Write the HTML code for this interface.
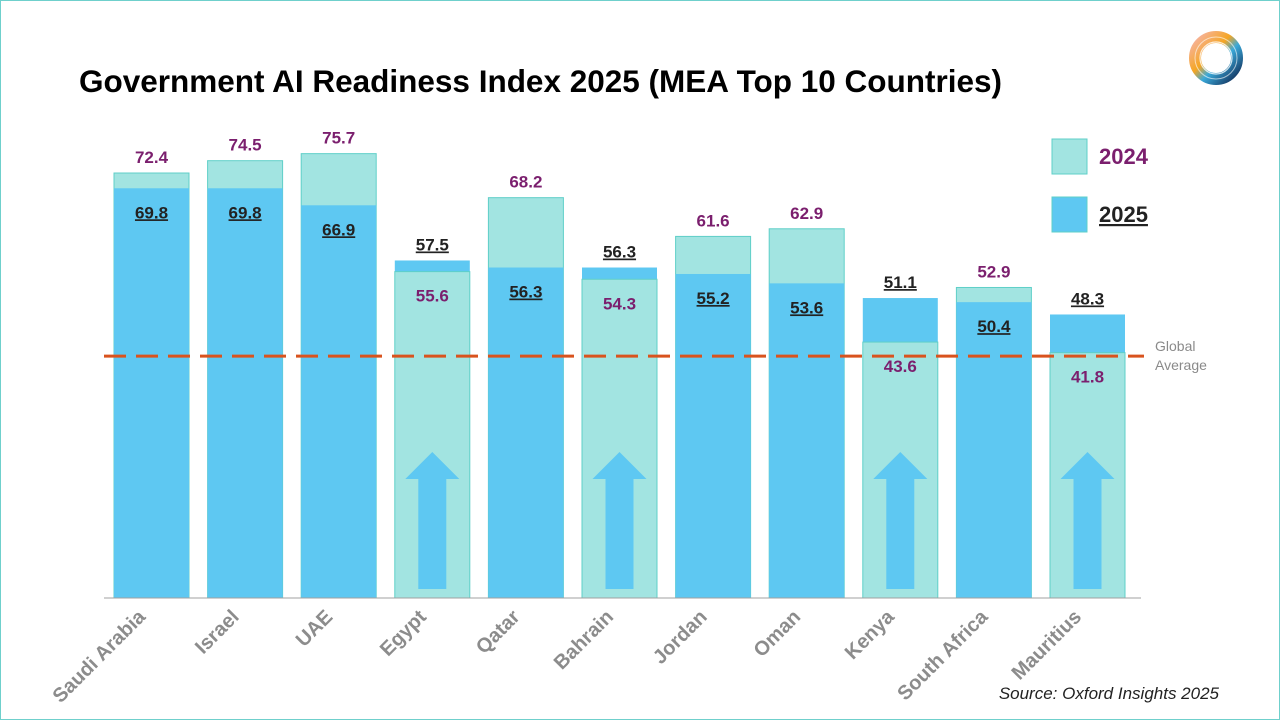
<!DOCTYPE html>
<html><head><meta charset="utf-8">
<style>
body{margin:0;width:1280px;height:720px;overflow:hidden;background:#fff;font-family:"Liberation Sans",Arial,sans-serif}
#slide{position:absolute;left:0;top:0;width:1278px;height:718px;border:1px solid #6fd0cc}
</style></head><body>
<div id="slide">
<svg id="chart" width="1280" height="720">
<defs>
<linearGradient id="lg1" x1="0" y1="0" x2="1" y2="1"><stop offset="0" stop-color="#f6b3a0"/><stop offset="0.4" stop-color="#f5a623"/><stop offset="0.6" stop-color="#3aa9d9"/><stop offset="1" stop-color="#13335e"/></linearGradient>
</defs>
<text x="78" y="91" font-size="31.5" font-weight="bold" fill="#000">Government AI Readiness Index 2025 (MEA Top 10 Countries)</text>
<g>
<circle cx="1215" cy="57" r="21" fill="none" stroke="url(#lg1)" stroke-width="12"/>
<circle cx="1215" cy="57" r="16" fill="none" stroke="#fff" stroke-width="1.2" opacity="0.8"/>
<circle cx="1215" cy="57" r="21" fill="none" stroke="#fff" stroke-width="1" opacity="0.6"/>
</g>
<g id="bars"></g>
<text x="1154" y="350" font-size="14" fill="#8a8a8a">Global</text>
<text x="1154" y="369" font-size="14" fill="#8a8a8a">Average</text>
<g>
<rect x="1051" y="138" width="35" height="35" fill="#a2e4e1" stroke="#5fcfc8"/>
<text x="1098" y="163" font-size="22" font-weight="bold" fill="#7b1f6e">2024</text>
<rect x="1051" y="196" width="35" height="35" fill="#5ec8f2" stroke="#5fcfc8"/>
<text x="1098" y="221" font-size="22" font-weight="bold" fill="#222" text-decoration="underline">2025</text>
</g>
<text x="1218" y="698" font-size="17" font-style="italic" fill="#222" text-anchor="end">Source: Oxford Insights 2025</text>
</svg>
</div>
<script>
const categories=["Saudi Arabia","Israel","UAE","Egypt","Qatar","Bahrain","Jordan","Oman","Kenya","South Africa","Mauritius"];
const values2024=[72.4,74.5,75.7,55.6,68.2,54.3,61.6,62.9,43.6,52.9,41.8];
const values2025=[69.8,69.8,66.9,57.5,56.3,56.3,55.2,53.6,51.1,50.4,48.3];
const globalAverage=41.2;
const NS="http://www.w3.org/2000/svg";
const g=document.getElementById('bars');
const base=597, k=5.87, x0=113, step=93.6, bw=75;
const y=v=>base-v*k;
const xc=i=>x0+i*step;
function mk(tag,attrs,parent){const e=document.createElementNS(NS,tag);for(const a in attrs)e.setAttribute(a,attrs[a]);(parent||g).appendChild(e);return e;}
categories.forEach((c,i)=>{
  const a=values2024[i],b=values2025[i],x=xc(i),cx=x+bw/2;
  const r24={x:x,y:y(a),width:bw,height:base-y(a),fill:"#a2e4e1",stroke:"#5fcfc8","stroke-width":1};
  const r25={x:x,y:y(b),width:bw,height:base-y(b),fill:"#5ec8f2"};
  let big,small;
  if(a>=b){
    big=mk('rect',r24);
    small=mk('rect',r25);
  }else{
    big=mk('rect',r25);
    small=mk('rect',r24);
    const ar=mk('path',{d:`M${cx-14} 588 L${cx-14} 478 L${cx-27} 478 L${cx} 451 L${cx+27} 478 L${cx+14} 478 L${cx+14} 588 Z`,fill:"#5ec8f2"});
    
    
  }
  const l24=mk('text',{x:cx,y:(a>=b?y(a)-10:y(a)+30),"text-anchor":"middle","font-size":17,"font-weight":"bold",fill:"#7b1f6e"});
  l24.textContent=a.toFixed(1);
  
  
  const l25=mk('text',{x:cx,y:(b>a?y(b)-10:y(b)+30),"text-anchor":"middle","font-size":17,"font-weight":"bold",fill:"#222","text-decoration":"underline"});
  l25.textContent=b.toFixed(1);
  
  
  const xl=mk('text',{x:0,y:0,"text-anchor":"end","font-size":20,"font-weight":"bold",fill:"#8c8c8c",transform:`translate(${cx-5},${617}) rotate(-45)`});
  xl.textContent=c;
  
  
});
const ax=mk('line',{x1:103,x2:1140,y1:base,y2:base,stroke:"#a0a0a0","stroke-width":1});


const avg=mk('line',{x1:103,x2:1143,y1:y(globalAverage),y2:y(globalAverage),stroke:"#d9531e","stroke-width":3,"stroke-dasharray":"22 10"});


</script>
</body></html>
